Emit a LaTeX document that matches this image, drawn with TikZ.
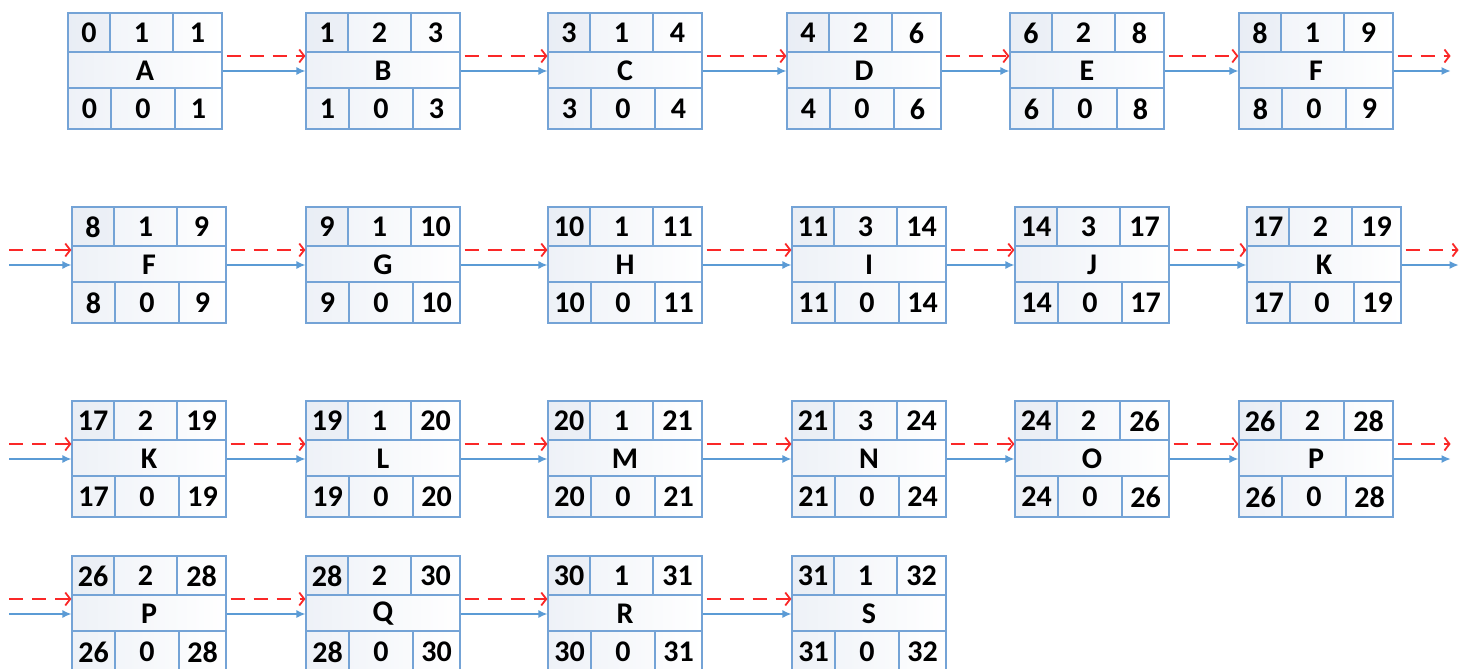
\documentclass[tikz,border=0pt]{standalone}
\usepackage{fontspec}
\setmainfont{Carlito}
\usepackage{xcolor}
\usepackage{tikz}
\usetikzlibrary{arrows.meta}
\definecolor{cRahmen}{RGB}{116,163,214}
\definecolor{cPfeil}{RGB}{91,155,213}
\definecolor{cKrit}{RGB}{250,40,40}
\definecolor{cTon}{RGB}{226,232,242}

\tikzset{
  actframe/.style={draw=cRahmen,line width=1.2pt,minimum width=154pt,minimum height=116pt,inner sep=0pt,left color=cTon!60,right color=white},
  cellline/.style={draw=cRahmen,line width=1.2pt},
  val/.style={font=\fontsize{30}{30}\selectfont\bfseries,inner sep=0pt},
  flow/.style={cPfeil,line width=1.3pt,-{Latex[length=9pt,width=8pt]}},
  crit/.style={cKrit,line width=1.8pt,dash pattern=on 14pt off 9pt,-{Straight Barb[length=5pt,width=13pt,line width=1.8pt]}}
}

% #1 name, #2 top left, #3 label, #4-#6 ES D EF, #7-#9 LS TF LF
\newcommand{\actbox}[9]{%
  \begin{scope}[shift={(#2)}]
    \node[actframe] (#1) at (77,58) {};
    \fill[cTon,opacity=0.35] (0,0) rectangle (42,39);
    \draw[cellline] (0,39)--(154,39) (0,75)--(154,75);
    \draw[cellline] (42,0)--(42,39) (105,0)--(105,39);
    \draw[cellline] (43,75)--(43,116) (107,75)--(107,116);
    \draw[cellline] (0,0) rectangle (154,116);
    \node[val] (#1-es) at (21,20) {#4};
    \node[val] (#1-d) at (73.5,20) {#5};
    \node[val] (#1-ef) at (129.5,20) {#6};
    \node[val] (#1-n) at (77,58) {#3};
    \node[val] (#1-ls) at (21.5,96) {#7};
    \node[val] (#1-tf) at (75,96) {#8};
    \node[val] (#1-lf) at (130.5,96) {#9};
  \end{scope}}

\begin{document}
\begin{tikzpicture}[x=1pt,y=-1pt]
\useasboundingbox (0,0) rectangle (1460,669);
% Zeile 1
\actbox{A}{68,13}{A}{0}{1}{1}{0}{0}{1}
\actbox{B}{306,13}{B}{1}{2}{3}{1}{0}{3}
\actbox{C}{548,13}{C}{3}{1}{4}{3}{0}{4}
\actbox{D}{787,13}{D}{4}{2}{6}{4}{0}{6}
\actbox{E}{1010,13}{E}{6}{2}{8}{6}{0}{8}
\actbox{F}{1239,13}{F}{8}{1}{9}{8}{0}{9}
% Zeile 2
\actbox{F2}{72,207}{F}{8}{1}{9}{8}{0}{9}
\actbox{G}{306,207}{G}{9}{1}{10}{9}{0}{10}
\actbox{H}{548,207}{H}{10}{1}{11}{10}{0}{11}
\actbox{I}{792,207}{I}{11}{3}{14}{11}{0}{14}
\actbox{J}{1015,207}{J}{14}{3}{17}{14}{0}{17}
\actbox{K}{1247,207}{K}{17}{2}{19}{17}{0}{19}
% Zeile 3
\actbox{K2}{72,401}{K}{17}{2}{19}{17}{0}{19}
\actbox{L}{306,401}{L}{19}{1}{20}{19}{0}{20}
\actbox{M}{548,401}{M}{20}{1}{21}{20}{0}{21}
\actbox{N}{792,401}{N}{21}{3}{24}{21}{0}{24}
\actbox{O}{1015,401}{O}{24}{2}{26}{24}{0}{26}
\actbox{P}{1239,401}{P}{26}{2}{28}{26}{0}{28}
% Zeile 4
\actbox{P2}{72,556}{P}{26}{2}{28}{26}{0}{28}
\actbox{Q}{306,556}{Q}{28}{2}{30}{28}{0}{30}
\actbox{R}{548,556}{R}{30}{1}{31}{30}{0}{31}
\actbox{S}{792,556}{S}{31}{1}{32}{31}{0}{32}

\foreach \a/\b in {A/B,B/C,C/D,D/E,E/F,F2/G,G/H,H/I,I/J,J/K,K2/L,L/M,M/N,N/O,O/P,P2/Q,Q/R,R/S}{
  \draw[flow] (\a.east) -- (\b.west);
  \draw[crit] ([xshift=4pt,yshift=15pt]\a.east) -- ([yshift=15pt]\b.west);
}

% Fortsetzung zur naechsten Zeile
\foreach \a in {F,K,P}{
  \coordinate (\a-out) at ([xshift=57pt]\a.east);
  \draw[flow] (\a.east) -- (\a-out);
  \draw[crit] ([xshift=4pt,yshift=15pt]\a.east) -- ([yshift=15pt]\a-out);
}
\foreach \a in {F2,K2,P2}{
  \coordinate (\a-in) at ([xshift=-62pt]\a.west);
  \draw[flow] (\a-in) -- (\a.west);
  \draw[crit] ([yshift=15pt]\a-in) -- ([yshift=15pt]\a.west);
}
\end{tikzpicture}
\end{document}
